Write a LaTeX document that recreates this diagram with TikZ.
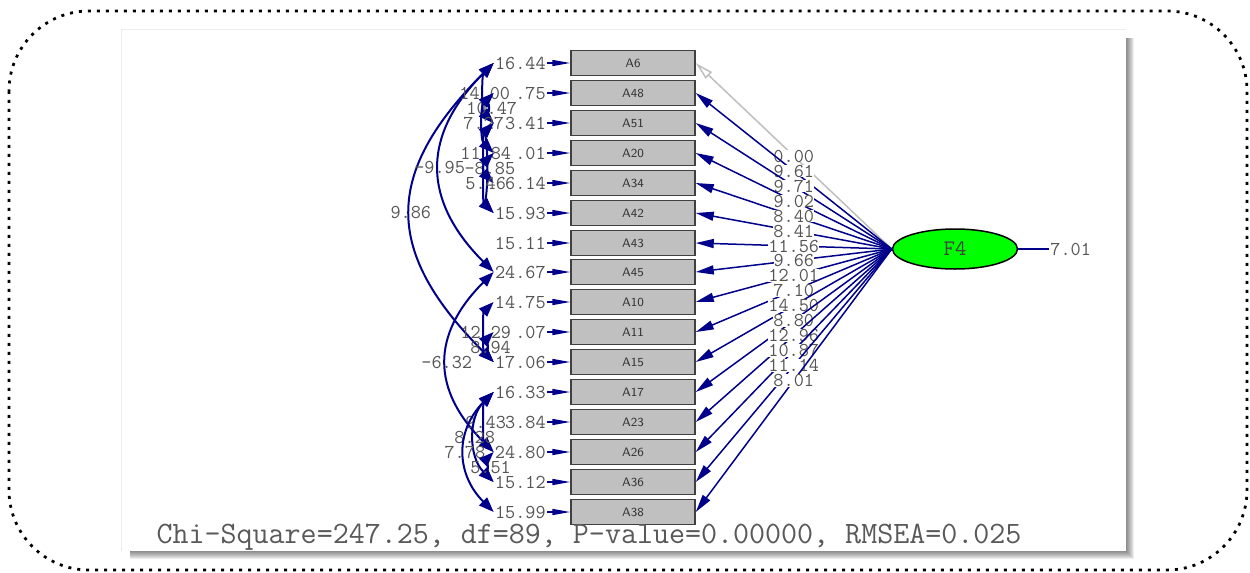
\documentclass[tikz,border=0pt]{standalone}
\usetikzlibrary{arrows.meta,shapes.geometric}
\definecolor{lisblue}{RGB}{0,0,139}
\definecolor{boxgray}{RGB}{192,192,192}
\definecolor{latgreen}{RGB}{0,255,0}
\definecolor{labgray}{RGB}{85,85,85}
\newcommand\lisnum{\fontsize{11.2}{12}\selectfont\ttfamily}

\begin{document}
\begin{tikzpicture}[x=0.02cm,y=-0.02cm,
  obsbox/.style={draw=black!75, fill=boxgray, line width=0.03cm, minimum width=2.48cm, minimum height=0.5cm, inner sep=0pt, font=\fontsize{7}{8}\selectfont\sffamily, text=black!80},
  latent/.style={ellipse, draw=black, fill=latgreen, line width=0.03cm, minimum width=2.5cm, minimum height=0.8cm, inner sep=0pt, font=\fontsize{12.6}{13}\selectfont\ttfamily, text=black!75},
  errlab/.style={inner sep=0.02cm, font=\lisnum, text=labgray},
  loadlab/.style={fill=white, inner sep=0pt, font=\lisnum, text=labgray},
  covlab/.style={inner sep=0pt, font=\lisnum, text=labgray},
  errarrow/.style={draw=lisblue, line width=0.03cm, -{Triangle[length=0.36cm,width=0.12cm]}},
  loadarrow/.style={draw=lisblue, line width=0.03cm, -{Triangle[length=0.36cm,width=0.18cm]}},
  fixarrow/.style={draw=black!25, line width=0.03cm, -{Triangle[open,length=0.36cm,width=0.18cm]}},
  covarrow/.style={draw=lisblue, line width=0.04cm, {Triangle[length=0.3cm,width=0.22cm]}-{Triangle[length=0.3cm,width=0.22cm]}},
]
\useasboundingbox (0,0) rectangle (1250,572);

% dotted frame
\draw[dash pattern=on 0.06cm off 0.12cm, line width=0.055cm, rounded corners=1.6cm] (9,11) rectangle (1247,570);

% panel with shadow
\foreach \s in {1,...,8}
  \fill[black, opacity=0.07] (130,38) rectangle (1126+\s,551+\s);
\fill[white] (121,29) rectangle (1126,551);
\draw[black!7, line width=0.02cm] (121,551) -- (121,29) -- (1126,29);

% observed variables
\node[obsbox] (b6) at (633,63) {A6};
\node[obsbox] (b48) at (633,93) {A48};
\node[obsbox] (b51) at (633,123) {A51};
\node[obsbox] (b20) at (633,153) {A20};
\node[obsbox] (b34) at (633,183) {A34};
\node[obsbox] (b42) at (633,213) {A42};
\node[obsbox] (b43) at (633,243) {A43};
\node[obsbox] (b45) at (633,272) {A45};
\node[obsbox] (b10) at (633,302) {A10};
\node[obsbox] (b11) at (633,332) {A11};
\node[obsbox] (b15) at (633,362) {A15};
\node[obsbox] (b17) at (633,392) {A17};
\node[obsbox] (b23) at (633,422) {A23};
\node[obsbox] (b26) at (633,452) {A26};
\node[obsbox] (b36) at (633,482) {A36};
\node[obsbox] (b38) at (633,512) {A38};

% latent factor
\node[latent] (f4) at (955,249) {F4};
\node[errlab, anchor=west] (d4) at (1049,249) {7.01};
\draw[lisblue, line width=0.03cm] (f4) -- (d4);

% error variances
\node[errlab, anchor=east] (e6) at (547,63) {16.44};
\node[errlab, anchor=east] (e48) at (547,93) {\phantom{00}.75};
\node[errlab, anchor=east] (e51) at (547,123) {\phantom{0}3.41};
\node[errlab, anchor=east] (e20) at (547,153) {\phantom{00}.01};
\node[errlab, anchor=east] (e34) at (547,183) {\phantom{0}6.14};
\node[errlab, anchor=east] (e42) at (547,213) {15.93};
\node[errlab, anchor=east] (e43) at (547,243) {15.11};
\node[errlab, anchor=east] (e45) at (547,272) {24.67};
\node[errlab, anchor=east] (e10) at (547,302) {14.75};
\node[errlab, anchor=east] (e11) at (547,332) {\phantom{00}.07};
\node[errlab, anchor=east] (e15) at (547,362) {17.06};
\node[errlab, anchor=east] (e17) at (547,392) {16.33};
\node[errlab, anchor=east] (e23) at (547,422) {\phantom{0}3.84};
\node[errlab, anchor=east] (e26) at (547,452) {24.80};
\node[errlab, anchor=east] (e36) at (547,482) {15.12};
\node[errlab, anchor=east] (e38) at (547,512) {15.99};

\draw[errarrow] (e6) -- (b6);
\draw[errarrow] (e48) -- (b48);
\draw[errarrow] (e51) -- (b51);
\draw[errarrow] (e20) -- (b20);
\draw[errarrow] (e34) -- (b34);
\draw[errarrow] (e42) -- (b42);
\draw[errarrow] (e43) -- (b43);
\draw[errarrow] (e45) -- (b45);
\draw[errarrow] (e10) -- (b10);
\draw[errarrow] (e11) -- (b11);
\draw[errarrow] (e15) -- (b15);
\draw[errarrow] (e17) -- (b17);
\draw[errarrow] (e23) -- (b23);
\draw[errarrow] (e26) -- (b26);
\draw[errarrow] (e36) -- (b36);
\draw[errarrow] (e38) -- (b38);

% loadings
\draw[fixarrow] (f4.west) -- (b6.east) node[loadlab, midway] {0.00};
\draw[loadarrow] (f4.west) -- (b48.east) node[loadlab, midway] {9.61};
\draw[loadarrow] (f4.west) -- (b51.east) node[loadlab, midway] {9.71};
\draw[loadarrow] (f4.west) -- (b20.east) node[loadlab, midway] {9.02};
\draw[loadarrow] (f4.west) -- (b34.east) node[loadlab, midway] {8.40};
\draw[loadarrow] (f4.west) -- (b42.east) node[loadlab, midway] {8.41};
\draw[loadarrow] (f4.west) -- (b43.east) node[loadlab, midway] {11.56};
\draw[loadarrow] (f4.west) -- (b45.east) node[loadlab, midway] {9.66};
\draw[loadarrow] (f4.west) -- (b10.east) node[loadlab, midway] {12.01};
\draw[loadarrow] (f4.west) -- (b11.east) node[loadlab, midway] {7.10};
\draw[loadarrow] (f4.west) -- (b15.east) node[loadlab, midway] {14.50};
\draw[loadarrow] (f4.west) -- (b17.east) node[loadlab, midway] {8.80};
\draw[loadarrow] (f4.west) -- (b23.east) node[loadlab, midway] {12.96};
\draw[loadarrow] (f4.west) -- (b26.east) node[loadlab, midway] {10.87};
\draw[loadarrow] (f4.west) -- (b36.east) node[loadlab, midway] {11.14};
\draw[loadarrow] (f4.west) -- (b38.east) node[loadlab, midway] {8.01};

% error covariances, upper block
\draw[covarrow] (e6.west) to[out=225, in=135, looseness=1.34] node[covlab, midway] {9.86} (e15.west);
\draw[covarrow] (e6.west) to[out=225, in=135, looseness=1.25] node[covlab, midway] {-9.95} (e45.west);
\draw[covarrow] (e6.west) to[out=225, in=135, looseness=0.72] node[covlab, midway] {14.00} (e51.west);
\draw[covarrow] (e48.west) to[out=225, in=135, looseness=0.3] node[covlab, midway] {10.47} (e51.west);
\draw[covarrow] (e48.west) to[out=225, in=135, looseness=0.8] node[covlab, midway] {7.27} (e20.west);
\draw[covarrow] (e51.west) to[out=225, in=135, looseness=0.64] node[covlab, midway] {11.84} (e34.west);
\draw[covarrow] (e51.west) to[out=225, in=135, looseness=0.2] node[covlab, midway] {-8.85} (e42.west);
\draw[covarrow] (e20.west) to[out=225, in=135, looseness=0.64] node[covlab, midway] {5.46} (e42.west);

% error covariances, lower block
\draw[covarrow] (e45.west) to[out=225, in=135, looseness=1.26] node[covlab, midway] {-6.32} (e26.west);
\draw[covarrow] (e10.west) to[out=225, in=135, looseness=0.64] node[covlab, midway] {12.29} (e15.west);
\draw[covarrow] (e11.west) to[out=225, in=135, looseness=0.5] node[covlab, midway] {8.94} (e15.west);
\draw[covarrow] (e17.west) to[out=225, in=135, looseness=0.64] node[covlab, midway] {9.43} (e26.west);
\draw[covarrow] (e17.west) to[out=225, in=135, looseness=1.02] node[covlab, midway] {8.28} (e36.west);
\draw[covarrow] (e17.west) to[out=225, in=135, looseness=1.16] node[covlab, midway] {7.78} (e38.west);
\draw[covarrow] (e26.west) to[out=225, in=135, looseness=0.5] node[covlab, midway] {5.51} (e36.west);

% fit statistics
\node[font=\fontsize{17.7}{18}\selectfont\ttfamily, text=black!65] (fit) at (589,537) {Chi-Square=247.25, df=89, P-value=0.00000, RMSEA=0.025};

\end{tikzpicture}
\end{document}
